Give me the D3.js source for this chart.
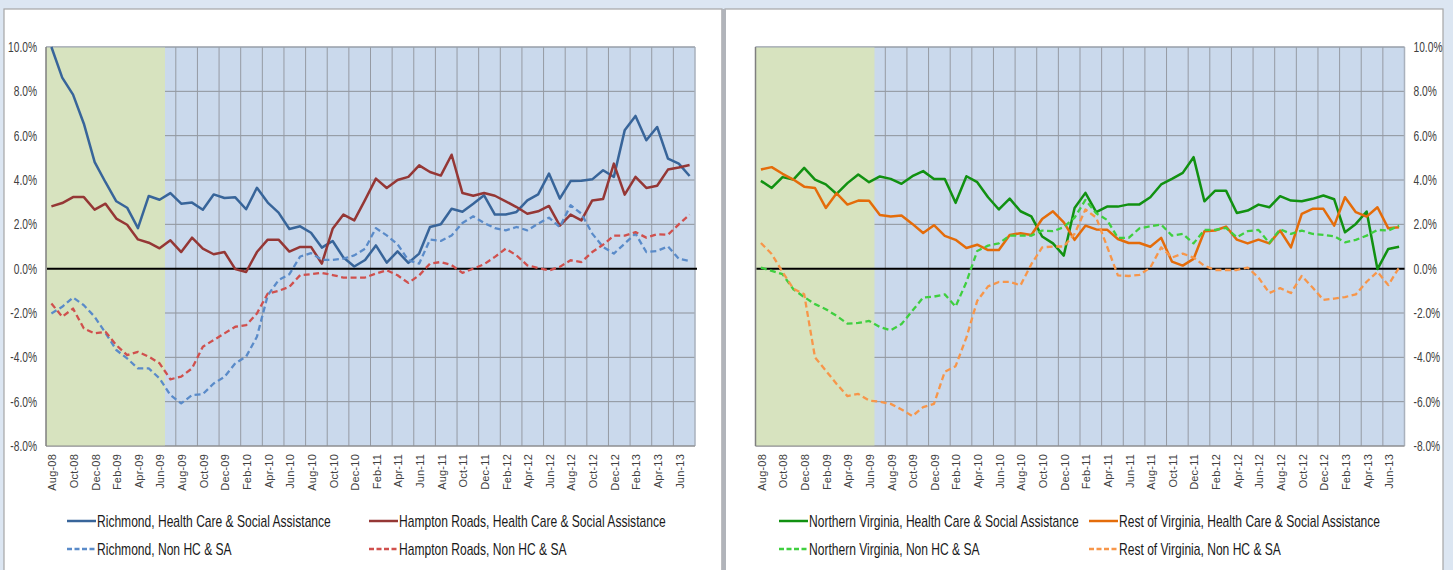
<!DOCTYPE html>
<html>
<head>
<meta charset="utf-8">
<script src="https://cdn.jsdelivr.net/npm/d3@7"></script>
<style>
    body { margin: 0; background: #dce6f2; overflow: hidden; }
    svg { display: block; }
    .ytick text { font-family: "Liberation Sans", Arial, sans-serif; font-size: 14px; fill: #404040; }
    .xtick text { font-family: "Liberation Sans", Arial, sans-serif; font-size: 11px; fill: #404040; letter-spacing: 0.2px; }
    .legend { font-family: "Liberation Sans", Arial, sans-serif; font-size: 16px; fill: #1a1a1a; }
</style>
</head>
<body>
<div id="chart"></div>
<script>
//Datos (% variación interanual del empleo)
const months = ['Aug-08','Sep-08','Oct-08','Nov-08','Dec-08','Jan-09','Feb-09','Mar-09','Apr-09','May-09','Jun-09','Jul-09',
    'Aug-09','Sep-09','Oct-09','Nov-09','Dec-09','Jan-10','Feb-10','Mar-10','Apr-10','May-10','Jun-10','Jul-10',
    'Aug-10','Sep-10','Oct-10','Nov-10','Dec-10','Jan-11','Feb-11','Mar-11','Apr-11','May-11','Jun-11','Jul-11',
    'Aug-11','Sep-11','Oct-11','Nov-11','Dec-11','Jan-12','Feb-12','Mar-12','Apr-12','May-12','Jun-12','Jul-12',
    'Aug-12','Sep-12','Oct-12','Nov-12','Dec-12','Jan-13','Feb-13','Mar-13','Apr-13','May-13','Jun-13','Jul-13'];

const tickLabels = ['Aug-08','Oct-08','Dec-08','Feb-09','Apr-09','Jun-09','Aug-09','Oct-09','Dec-09','Feb-10',
    'Apr-10','Jun-10','Aug-10','Oct-10','Dec-10','Feb-11','Apr-11','Jun-11','Aug-11','Oct-11',
    'Dec-11','Feb-12','Apr-12','Jun-12','Aug-12','Oct-12','Dec-12','Feb-13','Apr-13','Jun-13'];

const yTicks = [10, 8, 6, 4, 2, 0, -2, -4, -6, -8];

//Meses sombreados (recesión)
const recessionMonths = ['Aug-08','Sep-08','Oct-08','Nov-08','Dec-08','Jan-09','Feb-09','Mar-09','Apr-09','May-09','Jun-09'];

const richmondHC = [10.0, 8.62, 7.85, 6.54, 4.81, 3.9, 3.04, 2.75, 1.83, 3.28, 3.11, 3.41,
    2.93, 2.98, 2.66, 3.35, 3.19, 3.22, 2.68, 3.65, 2.98, 2.53, 1.79, 1.91,
    1.62, 0.95, 1.25, 0.5, 0.1, 0.39, 1.05, 0.27, 0.78, 0.26, 0.68, 1.88,
    2.0, 2.7, 2.57, 2.93, 3.31, 2.44, 2.44, 2.56, 3.08, 3.35, 4.29, 3.16,
    3.95, 3.97, 4.03, 4.44, 4.14, 6.24, 6.89, 5.79, 6.39, 4.96, 4.74, 4.18];

const hamptonHC = [2.81, 2.96, 3.23, 3.23, 2.66, 2.93, 2.26, 1.98, 1.32, 1.17, 0.92, 1.28,
    0.75, 1.4, 0.9, 0.65, 0.75, -0.02, -0.15, 0.75, 1.31, 1.31, 0.77, 0.98,
    0.98, 0.23, 1.8, 2.44, 2.18, 3.1, 4.06, 3.64, 4.0, 4.14, 4.66, 4.36,
    4.2, 5.14, 3.41, 3.29, 3.41, 3.29, 3.04, 2.78, 2.48, 2.59, 2.83, 1.94,
    2.44, 2.18, 3.08, 3.14, 4.74, 3.34, 4.14, 3.64, 3.74, 4.47, 4.56, 4.68];

const richmondNon = [-2.02, -1.72, -1.3, -1.65, -2.17, -2.9, -3.67, -4.05, -4.5, -4.5, -4.95, -5.7,
    -6.08, -5.7, -5.66, -5.18, -4.88, -4.27, -3.97, -3.07, -1.2, -0.52, -0.25, 0.55,
    0.7, 0.4, 0.4, 0.45, 0.6, 0.9, 1.83, 1.5, 1.1, 0.38, 0.23, 1.31,
    1.25, 1.5, 2.06, 2.36, 2.06, 1.83, 1.73, 1.88, 1.73, 2.03, 2.3, 1.88,
    2.86, 2.48, 1.58, 0.98, 0.68, 1.13, 1.58, 0.75, 0.8, 1.0, 0.45, 0.35];

const hamptonNon = [-1.57, -2.17, -1.8, -2.7, -2.92, -2.85, -3.45, -3.9, -3.75, -3.97, -4.27, -4.99,
    -4.87, -4.5, -3.52, -3.22, -2.92, -2.62, -2.55, -2.02, -1.12, -1.0, -0.82, -0.29,
    -0.25, -0.19, -0.29, -0.4, -0.4, -0.4, -0.22, -0.07, -0.3, -0.64, -0.3, 0.23,
    0.3, 0.16, -0.19, 0.0, 0.2, 0.53, 0.9, 0.6, 0.15, 0.03, -0.08, 0.08,
    0.38, 0.3, 0.75, 1.08, 1.49, 1.49, 1.65, 1.4, 1.55, 1.53, 2.0, 2.44];

const nvaHC = [3.96, 3.64, 4.13, 4.02, 4.55, 4.02, 3.8, 3.37, 3.86, 4.25, 3.9, 4.16,
    4.05, 3.83, 4.17, 4.4, 4.05, 4.05, 2.97, 4.17, 3.9, 3.22, 2.67, 3.16,
    2.59, 2.36, 1.45, 1.14, 0.59, 2.74, 3.42, 2.55, 2.8, 2.8, 2.9, 2.9,
    3.22, 3.8, 4.05, 4.32, 5.03, 3.04, 3.52, 3.52, 2.51, 2.62, 2.89, 2.77,
    3.27, 3.07, 3.04, 3.15, 3.3, 3.13, 1.64, 2.02, 2.58, -0.02, 0.89, 0.99];

const restHC = [4.47, 4.58, 4.28, 4.02, 3.7, 3.64, 2.74, 3.4, 2.89, 3.07, 3.06, 2.42,
    2.35, 2.4, 2.02, 1.61, 1.96, 1.48, 1.3, 0.93, 1.08, 0.84, 0.84, 1.52,
    1.6, 1.52, 2.24, 2.59, 2.09, 1.3, 1.94, 1.77, 1.76, 1.34, 1.16, 1.16,
    0.99, 1.39, 0.32, 0.14, 0.44, 1.69, 1.72, 1.9, 1.31, 1.14, 1.31, 1.14,
    1.72, 0.96, 2.47, 2.7, 2.7, 1.94, 3.22, 2.55, 2.35, 2.77, 1.82, 1.87];

const nvaNon = [0.05, -0.1, -0.25, -0.93, -1.28, -1.6, -1.83, -2.13, -2.48, -2.45, -2.36, -2.63,
    -2.78, -2.5, -1.9, -1.3, -1.26, -1.16, -1.71, -0.6, 0.8, 1.04, 1.14, 1.49,
    1.49, 1.49, 1.72, 1.69, 1.87, 2.3, 3.1, 2.5, 2.2, 1.39, 1.39, 1.82,
    1.91, 1.99, 1.49, 1.57, 1.14, 1.75, 1.75, 1.84, 1.42, 1.69, 1.75, 1.16,
    1.78, 1.57, 1.72, 1.57, 1.52, 1.46, 1.19, 1.3, 1.49, 1.75, 1.72, 1.94];

const restNon = [1.16, 0.66, -0.15, -0.9, -1.15, -4.0, -4.6, -5.2, -5.75, -5.65, -5.95, -6.0,
    -6.1, -6.35, -6.65, -6.25, -6.1, -4.65, -4.4, -3.1, -1.45, -0.8, -0.6, -0.6,
    -0.75, 0.2, 0.96, 1.0, 1.0, 1.57, 2.67, 2.3, 1.0, -0.3, -0.33, -0.28,
    0.05, 0.96, 0.5, 0.68, 0.5, 0.13, -0.06, -0.06, -0.06, 0.05, -0.4, -1.1,
    -0.88, -1.1, -0.33, -0.85, -1.41, -1.35, -1.28, -1.16, -0.59, -0.14, -0.74, 0.05];

//Colores
const COLOR_RICH = '#38659a',
    COLOR_RICH_NON = '#5a8bc9',
    COLOR_HAMP = '#953735',
    COLOR_HAMP_NON = '#d0504d',
    COLOR_NVA = '#119111',
    COLOR_NVA_NON = '#3fcf3f',
    COLOR_REST = '#e46c0a',
    COLOR_REST_NON = '#f7964a';

const W = 1453, H = 570;

let svg = d3.select('#chart')
    .append('svg')
        .attr('width', W)
        .attr('height', H);

//Paneles
svg.append('rect').attr('x', 4).attr('y', 9).attr('width', 718).attr('height', 600)
    .attr('fill', '#fff').attr('stroke', '#a6a6a6').attr('stroke-width', 1.2);
svg.append('rect').attr('x', 725).attr('y', 9).attr('width', 718).attr('height', 600)
    .attr('fill', '#fff').attr('stroke', '#a6a6a6').attr('stroke-width', 1.2);
svg.append('rect').attr('x', 721.5).attr('y', 9).attr('width', 4.5).attr('height', 600)
    .attr('fill', '#b1b4ba');

//La fuente original es condensada: se estrecha con una escala horizontal
let legendFactor = null, tickFactor = null;

function drawChart(opts) {
    let x0 = opts.x0, x1 = opts.x0 + 649,
        yTop = 47, yBottom = 446;

    let g = svg.append('g');

    let x = d3.scaleBand()
        .domain(months)
        .range([x0, x1])
        .padding(0);

    let y = d3.scaleLinear()
        .domain([-8, 10])
        .range([yBottom, yTop]);

    //Fondo
    g.append('rect')
        .attr('x', x0).attr('y', yTop)
        .attr('width', x1 - x0).attr('height', yBottom - yTop)
        .attr('fill', '#cad9ec');

    //Rejilla horizontal
    g.selectAll('.hgrid')
        .data(yTicks)
        .enter()
        .append('line')
        .attr('x1', x0).attr('x2', x1)
        .attr('y1', d => y(d)).attr('y2', d => y(d))
        .attr('stroke', '#8e939b')
        .attr('stroke-width', 1);

    //Rejilla vertical (cada dos meses)
    let vgrid = months.filter((d, i) => i > 0 && i % 2 == 0);
    g.selectAll('.vgrid')
        .data(vgrid)
        .enter()
        .append('line')
        .attr('x1', d => x(d)).attr('x2', d => x(d))
        .attr('y1', yTop).attr('y2', yBottom)
        .attr('stroke', '#959aa3')
        .attr('stroke-width', 1);

    g.append('line')
        .attr('x1', x1).attr('x2', x1)
        .attr('y1', yTop).attr('y2', yBottom)
        .attr('stroke', '#a9b1bc').attr('stroke-width', 1.5);

    //Sombreado recesión
    let rStart = x(recessionMonths[0]),
        rEnd = x(recessionMonths[recessionMonths.length - 1]) + x.bandwidth();
    g.append('rect')
        .attr('x', rStart).attr('y', yTop)
        .attr('width', rEnd - rStart).attr('height', yBottom - yTop)
        .attr('fill', '#d7e3bf');

    //Ejes
    g.append('line')
        .attr('x1', x0).attr('x2', x1)
        .attr('y1', yTop).attr('y2', yTop)
        .attr('stroke', '#9aa3ae').attr('stroke-width', 1);
    g.append('line')
        .attr('x1', x0).attr('x2', x1)
        .attr('y1', yBottom).attr('y2', yBottom)
        .attr('stroke', '#8c8c8c').attr('stroke-width', 1);
    g.append('line')
        .attr('x1', x0).attr('x2', x0)
        .attr('y1', yTop).attr('y2', yBottom)
        .attr('stroke', '#7f7f7f').attr('stroke-width', 1.5);

    //Línea de cero
    g.append('line')
        .attr('x1', x0 + 1).attr('x2', x1 + opts.zeroExtra)
        .attr('y1', y(0)).attr('y2', y(0))
        .attr('stroke', '#000').attr('stroke-width', 2);

    //Eje Y
    let yAxis = opts.axisRight
        ? d3.axisRight(y).tickValues(yTicks).tickSize(0).tickPadding(9).tickFormat(d => d.toFixed(1) + '%')
        : d3.axisLeft(y).tickValues(yTicks).tickSize(0).tickPadding(9).tickFormat(d => d.toFixed(1) + '%');

    let yg = g.append('g')
        .attr('class', 'ytick')
        .attr('transform', 'translate(' + (opts.axisRight ? x1 : x0) + ',0)')
        .call(yAxis)
        .call(function(g) { g.select('.domain').remove(); });

    if (tickFactor === null) {
        let ref = yg.selectAll('text').filter(d => d == 10).node();
        tickFactor = 29 / ref.getComputedTextLength();
    }
    yg.selectAll('text')
        .attr('x', (opts.axisRight ? 9 : -9) / tickFactor)
        .attr('transform', 'scale(' + tickFactor + ',1)');

    //Eje X
    g.append('g')
        .attr('class', 'xtick')
        .attr('transform', 'translate(0,' + yBottom + ')')
        .call(d3.axisBottom(x).tickValues(tickLabels).tickSize(0))
        .call(function(g) { g.select('.domain').remove(); })
        .call(function(g) {
            g.selectAll('text')
                .attr('transform', 'rotate(-90)')
                .attr('text-anchor', 'end')
                .attr('x', -8)
                .attr('y', 1)
                .attr('dy', '0.35em');
        });

    //Líneas
    let line = d3.line()
        .x((d, i) => x(months[i]) + x.bandwidth() / 2)
        .y(d => y(d));

    opts.series.forEach(function(s) {
        g.append('path')
            .datum(s.values)
            .attr('fill', 'none')
            .attr('stroke', s.color)
            .attr('stroke-width', s.dashed ? 2.3 : 2.5)
            .attr('stroke-dasharray', s.dashed ? '6,3.5' : null)
            .attr('stroke-linejoin', 'round')
            .attr('d', line);
    });

    //Leyenda
    opts.series.forEach(function(s, i) {
        let lx = opts.legendX[i % 2],
            ly = i < 2 ? 521 : 549;
        g.append('line')
            .attr('x1', lx).attr('x2', lx + 29)
            .attr('y1', ly).attr('y2', ly)
            .attr('stroke', s.color)
            .attr('stroke-width', 2.5)
            .attr('stroke-dasharray', s.dashed ? '5,2.5' : null);
        let t = g.append('text')
            .attr('class', 'legend')
            .attr('x', 0)
            .attr('y', 0)
            .attr('dy', '0.36em')
            .text(s.name);
        if (legendFactor === null) {
            legendFactor = 234 / t.node().getComputedTextLength();
        }
        t.attr('transform', 'translate(' + (lx + 30) + ',' + ly + ') scale(' + legendFactor + ',1)');
    });
}

drawChart({
    x0: 46,
    axisRight: false,
    zeroExtra: 2,
    legendX: [67, 369],
    series: [
        { name: 'Richmond, Health Care & Social Assistance', values: richmondHC, color: COLOR_RICH, dashed: false },
        { name: 'Hampton Roads, Health Care & Social Assistance', values: hamptonHC, color: COLOR_HAMP, dashed: false },
        { name: 'Richmond, Non HC & SA', values: richmondNon, color: COLOR_RICH_NON, dashed: true },
        { name: 'Hampton Roads, Non HC & SA', values: hamptonNon, color: COLOR_HAMP_NON, dashed: true }
    ]
});

drawChart({
    x0: 755.5,
    axisRight: true,
    zeroExtra: 0,
    legendX: [779, 1089],
    series: [
        { name: 'Northern Virginia, Health Care & Social Assistance', values: nvaHC, color: COLOR_NVA, dashed: false },
        { name: 'Rest of Virginia, Health Care & Social Assistance', values: restHC, color: COLOR_REST, dashed: false },
        { name: 'Northern Virginia, Non HC & SA', values: nvaNon, color: COLOR_NVA_NON, dashed: true },
        { name: 'Rest of Virginia, Non HC & SA', values: restNon, color: COLOR_REST_NON, dashed: true }
    ]
});
</script>
</body>
</html>
